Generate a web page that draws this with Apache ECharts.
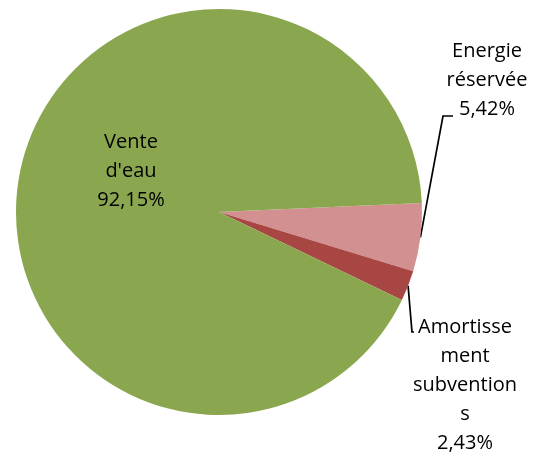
<!DOCTYPE html>
<html>
<head>
<meta charset="utf-8">
<script src="https://cdn.jsdelivr.net/npm/echarts@6/dist/echarts.min.js"></script>
<style>
html,body{margin:0;padding:0;background:#fff;}
#chart{width:545px;height:455px;}
</style>
</head>
<body>
<div id="chart"></div>
<script>
// Data
var categories = ["Energie réservée", "Amortissement subventions", "Vente d'eau"];
var displayNames = ["Energie\nréservée", "Amortisse\nment\nsubvention\ns", "Vente\nd'eau"];
var values = [5.42, 2.43, 92.15];
var colors = ['#D29190', '#A84644', '#8AA74F'];

// label centres and leader-line bends (layout only)
var labelCentres = [[487, 80], [465, 385], [131, 171]];
var lineBends = [[[443, 116], [453, 116]], [[412, 332], [414, 332]], null];

var chart = echarts.init(document.getElementById('chart'), null, {renderer: 'canvas'});

function fmt(v) { return v.toFixed(2).replace('.', ',') + '%'; }

var data = categories.map(function (c, i) {
  var item = {
    name: c,
    value: values[i],
    itemStyle: {color: colors[i]}
  };
  if (i === 2) {
    item.label = {position: 'inside'};
    item.labelLine = {show: false};
  }
  return item;
});

chart.setOption({
  animation: false,
  backgroundColor: '#fff',
  series: [{
    type: 'pie',
    center: [219, 212],
    radius: 203,
    startAngle: 2.55,
    clockwise: true,
    avoidLabelOverlap: false,
    data: data,
    itemStyle: {borderWidth: 0},
    emphasis: {disabled: true},
    label: {
      show: true,
      position: 'outside',
      color: '#000',
      fontFamily: 'Open Sans',
      fontSize: 20,
      lineHeight: 29,
      align: 'center',
      formatter: function (p) {
        return displayNames[p.dataIndex] + '\n' + fmt(p.value);
      }
    },
    labelLine: {
      show: true,
      length: 10,
      length2: 5,
      lineStyle: {color: '#000', width: 1.7}
    },
    labelLayout: function (p) {
      var c = labelCentres[p.dataIndex];
      var out = {x: c[0], y: c[1], align: 'center', verticalAlign: 'middle'};
      var b = lineBends[p.dataIndex];
      if (b && p.labelLinePoints) {
        out.labelLinePoints = [p.labelLinePoints[0], b[0], b[1]];
      }
      return out;
    }
  }]
});
</script>
</body>
</html>
